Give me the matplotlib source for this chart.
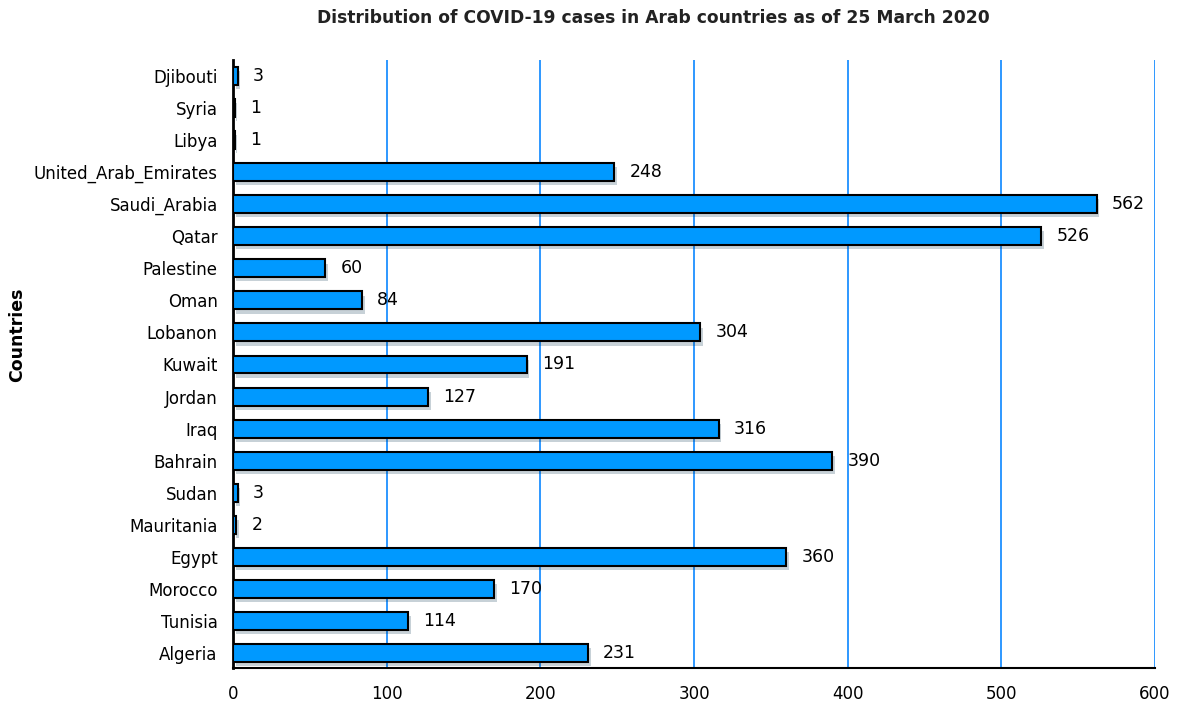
import matplotlib.pyplot as plt
import matplotlib.patheffects as pe

countries = ["Algeria", "Tunisia", "Morocco", "Egypt", "Mauritania", "Sudan",
             "Bahrain", "Iraq", "Jordan", "Kuwait", "Lobanon", "Oman",
             "Palestine", "Qatar", "Saudi_Arabia", "United_Arab_Emirates",
             "Libya", "Syria", "Djibouti"]
cases = [231, 114, 170, 360, 2, 3, 390, 316, 127, 191, 304, 84,
         60, 526, 562, 248, 1, 1, 3]

fig = plt.figure(figsize=(11.77, 7.06), dpi=100)
ax = fig.add_axes([233 / 1177, 1 - 668 / 706, (1155 - 233) / 1177, (668 - 60) / 706])

pos = list(range(len(countries)))
bars = ax.barh(pos, cases, height=0.56, color="#0099ff", edgecolor="black",
               linewidth=1.5, zorder=3)
for b in bars:
    b.set_path_effects([pe.SimplePatchShadow(offset=(2, -3), alpha=0.22), pe.Normal()])

for y, v in zip(pos, cases):
    ax.annotate(str(v), (v, y), xytext=(11, 0), textcoords="offset points",
                va="center", ha="left", fontsize=12.5)

ax.set_xlim(0, 600)
ax.set_ylim(-0.47, 18.5)
ax.set_xticks(range(0, 601, 100))
ax.set_yticks(pos)
ax.set_yticklabels(countries)
ax.tick_params(axis="both", length=0, labelsize=12)
ax.tick_params(axis="x", pad=12)
ax.tick_params(axis="y", pad=11)

ax.grid(axis="x", color="#1e90ff", linewidth=1.3, zorder=0)
ax.set_axisbelow(True)
for side in ["top", "right"]:
    ax.spines[side].set_visible(False)
ax.spines["left"].set_linewidth(2)
ax.spines["bottom"].set_linewidth(1.5)

ax.set_ylabel("Countries", fontsize=12.5, fontweight="bold")
ax.yaxis.set_label_coords(-0.224, 0.548)
fig.suptitle("Distribution of COVID-19 cases in Arab countries as of 25 March 2020",
             x=0.555, y=0.987, fontsize=12.3, fontweight="bold", color="#222222")

fig.savefig("out.png", dpi=100)
